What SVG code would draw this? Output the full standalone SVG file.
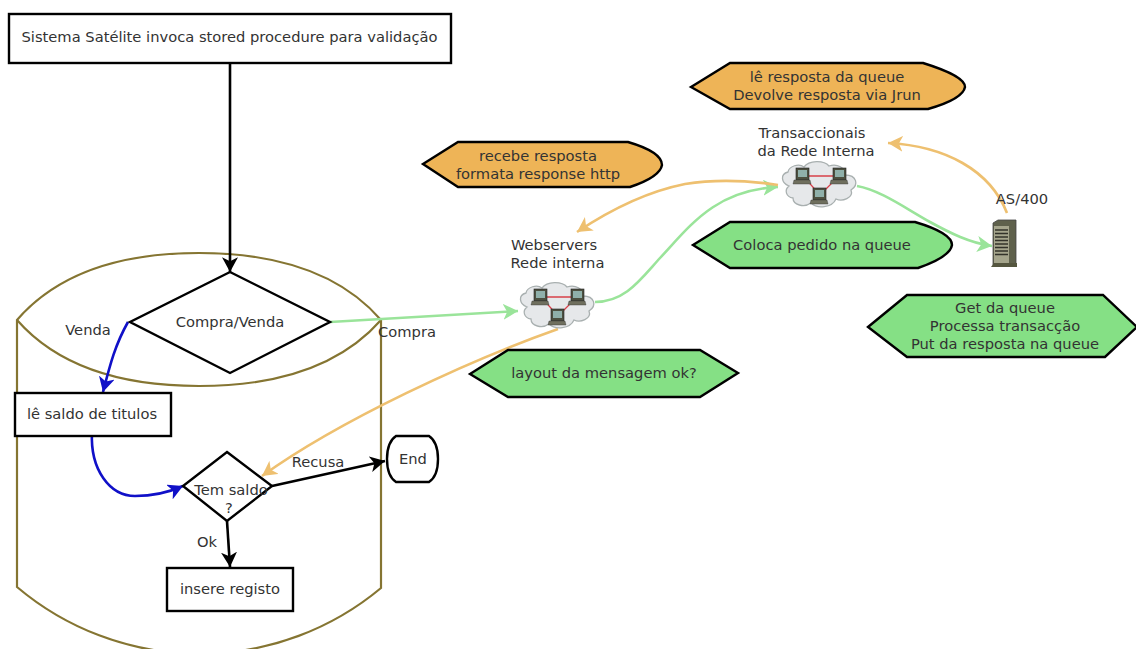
<svg xmlns="http://www.w3.org/2000/svg" width="1136" height="649" viewBox="0 0 1136 649">
<style>
text{font-family:"DejaVu Sans",sans-serif;font-size:14.7px;fill:#333;text-anchor:middle}
.n{fill:#fff;stroke:#000;stroke-width:2.4}
.o{fill:#eeb457;stroke:#000;stroke-width:2.4}
.g{fill:#85e085;stroke:#000;stroke-width:2.4}
.c{fill:none;stroke-width:2.6}
.k{stroke:#000}.b{stroke:#1010c8}.gr{stroke:#9ae49a}.or{stroke:#eec070}
.cyl{fill:none;stroke:#857532;stroke-width:2.2}
.cl{fill:#e6e8ea;stroke:#a9b0b0;stroke-width:1.3}
.pc{fill:#4d5040;stroke:#222;stroke-width:.6}
.lk{stroke:#d8404a;stroke-width:1.3;fill:none}
</style>
<defs>
<marker id="ak" viewBox="0 0 14 14" refX="13" refY="7" markerWidth="16" markerHeight="16" markerUnits="userSpaceOnUse" orient="auto"><path d="M0 0L13 7L0 14L3.5 7Z" fill="#000"/></marker>
<marker id="ab" viewBox="0 0 14 14" refX="13" refY="7" markerWidth="16" markerHeight="16" markerUnits="userSpaceOnUse" orient="auto"><path d="M0 0L13 7L0 14L3.5 7Z" fill="#1010c8"/></marker>
<marker id="ag" viewBox="0 0 14 14" refX="13" refY="7" markerWidth="16" markerHeight="16" markerUnits="userSpaceOnUse" orient="auto"><path d="M0 0L13 7L0 14L3.5 7Z" fill="#9ae49a"/></marker>
<marker id="ao" viewBox="0 0 14 14" refX="13" refY="7" markerWidth="16" markerHeight="16" markerUnits="userSpaceOnUse" orient="auto"><path d="M0 0L13 7L0 14L3.5 7Z" fill="#eec070"/></marker>
<g id="pc"><rect class="pc" x="-7" y="-9" width="13" height="12"/><rect x="-5" y="-7" width="9" height="7" fill="#8fb0aa"/><path d="M-9 3H7L8 7H-10Z" fill="#6f6f5e" stroke="#333" stroke-width=".4"/></g>
<g id="cloud"><path class="cl" d="M9 25C1 22 0 13 8 11C9 5 19 2 24 6C29 -1 44 -1 49 5C57 2 66 7 65 14C77 14 79 24 71 29C74 37 62 41 56 38C52 47 37 48 31 42C24 47 13 44 13 37C6 36 4 29 9 25Z"/><path class="lk" d="M23 15H59L40 34Z"/><use href="#pc" x="23" y="16"/><use href="#pc" x="60" y="16"/><use href="#pc" x="40" y="36"/></g>
</defs>
<rect width="1136" height="649" fill="#fff"/>
<g id="cylinder">
<path class="cyl" d="M17 320Q75 253 199 253Q323 253 381 320V588A283 283 0 0 1 17 587Z"/>
<path class="cyl" d="M17 320Q75 386 199 386Q323 386 381 320"/>
</g>
<g id="connectors">
<path class="c k" d="M230 63V272" marker-end="url(#ak)"/>
<path class="c gr" d="M330 322L518 311" marker-end="url(#ag)"/>
<path class="c gr" d="M595 302C625 302 640 280 660 258C690 226 715 190 778 187" marker-end="url(#ag)"/>
<path class="c gr" d="M857 186C880 190 905 208 930 222C950 233 970 243 992 246" marker-end="url(#ag)"/>
<path class="c or" d="M778 185C745 180 710 180 685 184C645 192 610 210 577 232" marker-end="url(#ao)"/>
<path class="c or" d="M1007 213C990 170 945 146 888 143" marker-end="url(#ao)"/>
<path class="c or" d="M558 329C470 360 340 420 262 476" marker-end="url(#ao)"/>
<path class="c b" d="M128 322C115 345 110 365 103 392" marker-end="url(#ab)"/>
<path class="c b" d="M92 432C90 470 110 496 135 496C150 496 165 494 183 486" marker-end="url(#ab)"/>
<path class="c k" d="M272 486L385 461" marker-end="url(#ak)"/>
<path class="c k" d="M227 521L230 567" marker-end="url(#ak)"/>
</g>
<g id="start"><rect class="n" x="9" y="14" width="442" height="49"/><text x="229.500" y="42">Sistema Satélite invoca stored procedure para validação</text></g>
<g id="compra-venda"><path class="n" d="M230 272L330 322L230 373L130 322Z"/><text x="230" y="327">Compra/Venda</text></g>
<g id="le-saldo"><rect class="n" x="15" y="393" width="156" height="43"/><text x="92" y="419">lê saldo de titulos</text></g>
<g id="tem-saldo"><path class="n" d="M227 452L272 486L227 521L183 486Z"/><text x="231" y="495">Tem saldo</text><text x="229" y="513">?</text></g>
<g id="insere"><rect class="n" x="167" y="568" width="126" height="43"/><text x="230" y="594">insere registo</text></g>
<g id="end"><path class="n" d="M396 436H429Q438 442 438 459Q438 476 429 482H396Q387 476 387 459Q387 442 396 436Z"/><text x="413" y="464">End</text></g>
<g id="recebe"><path class="o" d="M423 164L458 142H628Q662 152 662 165Q660 177 630 187H458Z"/><text x="538" y="161">recebe resposta</text><text x="538" y="179">formata response http</text></g>
<g id="le-resposta"><path class="o" d="M691 87L730 63H923Q965 76 965 87Q963 99 928 109H730Z"/><text x="827" y="82">lê resposta da queue</text><text x="827" y="100">Devolve resposta via Jrun</text></g>
<g id="coloca"><path class="g" d="M693 245L730 222H915Q952 233 952 245Q950 257 918 268H730Z"/><text x="822" y="250">Coloca pedido na queue</text></g>
<g id="get"><path class="g" d="M868 327L907 295H1103L1137 327L1105 357H907Z"/><text x="1005" y="313">Get da queue</text><text x="1005" y="331">Processa transacção</text><text x="1005" y="349">Put da resposta na queue</text></g>
<g id="layout"><path class="g" d="M470 374L508 350H700L738 373L700 397H508Z"/><text x="604" y="378">layout da mensagem ok?</text></g>
<g id="webservers"><use href="#cloud" x="518" y="282"/><text x="554" y="250">Webservers</text><text x="557.500" y="268">Rede interna</text></g>
<g id="transaccionais"><use href="#cloud" x="780" y="161"/><text x="812" y="138">Transaccionais</text><text x="816" y="156">da Rede Interna</text></g>
<g id="as400"><path d="M993 223L998 220H1016V265H993Z" fill="#5f614c" stroke="#444" stroke-width=".8"/><rect x="994" y="226" width="15" height="37" fill="#a5a58c"/><path d="M995 230H1008M995 233.500H1008M995 237H1008M995 240.500H1008M995 244H1008M995 247.500H1008M995 251H1008M995 254.500H1008" stroke="#33332a" stroke-width="1.6"/><path d="M991 267L994 263H1017V267Z" fill="#55563f"/><text x="1022" y="204">AS/400</text></g>
<g id="labels"><text x="88" y="335">Venda</text><text x="407" y="337">Compra</text><text x="318" y="467">Recusa</text><text x="207" y="547">Ok</text></g>
</svg>
